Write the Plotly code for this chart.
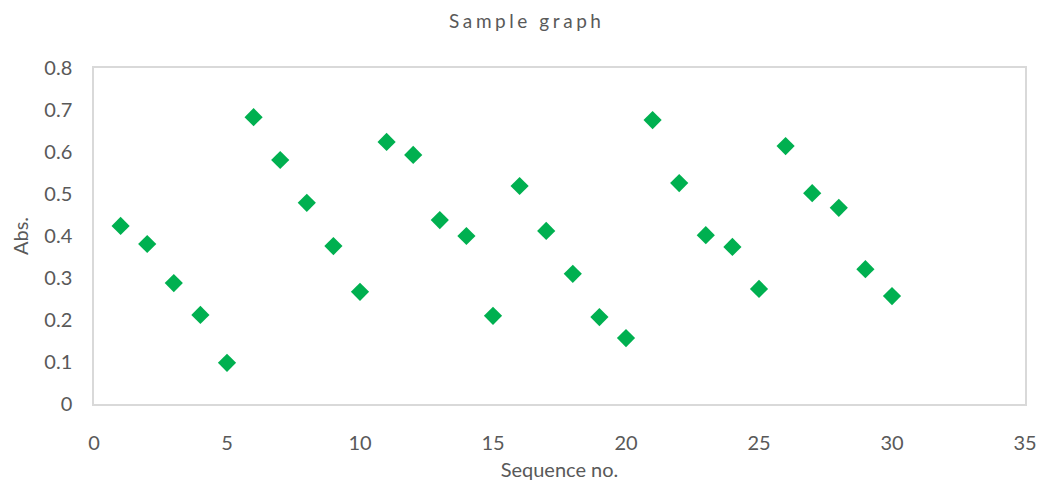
import plotly.graph_objects as go

# Sequence numbers and absorbance readings
sequence_no = list(range(1, 31))
absorbance = [0.424, 0.381, 0.288, 0.212, 0.098, 0.683, 0.581, 0.479, 0.376, 0.267,
              0.624, 0.593, 0.438, 0.400, 0.210, 0.519, 0.412, 0.310, 0.207, 0.157,
              0.676, 0.526, 0.402, 0.374, 0.274, 0.614, 0.502, 0.467, 0.321, 0.257]

x_ticks = [0, 5, 10, 15, 20, 25, 30, 35]
y_ticks = [0, 0.1, 0.2, 0.3, 0.4, 0.5, 0.6, 0.7, 0.8]
y_tick_text = ["0", "0.1", "0.2", "0.3", "0.4", "0.5", "0.6", "0.7", "0.8"]

FONT = "Lato, 'Open Sans', sans-serif"
TEXT_GRAY = "#595959"
# letter-spaced chart title
title_text = "\u2009\u200a".join("Sample graph").replace(" ", "\u2009\u2009")

fig = go.Figure(
    go.Scatter(
        x=sequence_no,
        y=absorbance,
        mode="markers",
        marker=dict(symbol="diamond", size=14, color="#00B050", line=dict(width=0)),
        hoverinfo="x+y",
    )
)

fig.update_layout(
    width=1050,
    height=492,
    paper_bgcolor="white",
    plot_bgcolor="white",
    margin=dict(l=94, r=25, t=68, b=88),
    showlegend=False,
    title=dict(
        text=title_text,
        x=0.5,
        xanchor="center",
        y=0.957,
        yanchor="middle",
        font=dict(family=FONT, size=19, color=TEXT_GRAY),
    ),
    font=dict(family=FONT, color=TEXT_GRAY),
)

axis_common = dict(
    showgrid=False,
    zeroline=False,
    showline=True,
    linecolor="#D9D9D9",
    linewidth=1.5,
    mirror=True,
    ticks="outside",
    tickcolor="rgba(0,0,0,0)",
    tickfont=dict(family=FONT, size=20, color=TEXT_GRAY),
)

fig.update_xaxes(
    range=[0, 35],
    tickvals=x_ticks,
    ticktext=[str(v) for v in x_ticks],
    ticklen=20,
    title=dict(text="Sequence no.", font=dict(family=FONT, size=20, color=TEXT_GRAY), standoff=10),
    **axis_common,
)
fig.update_yaxes(
    range=[0, 0.8],
    tickvals=y_ticks,
    ticktext=y_tick_text,
    ticklen=16,
    title=dict(text="Abs.", font=dict(family=FONT, size=20, color=TEXT_GRAY), standoff=10),
    **axis_common,
)

fig.write_html("out.html")
